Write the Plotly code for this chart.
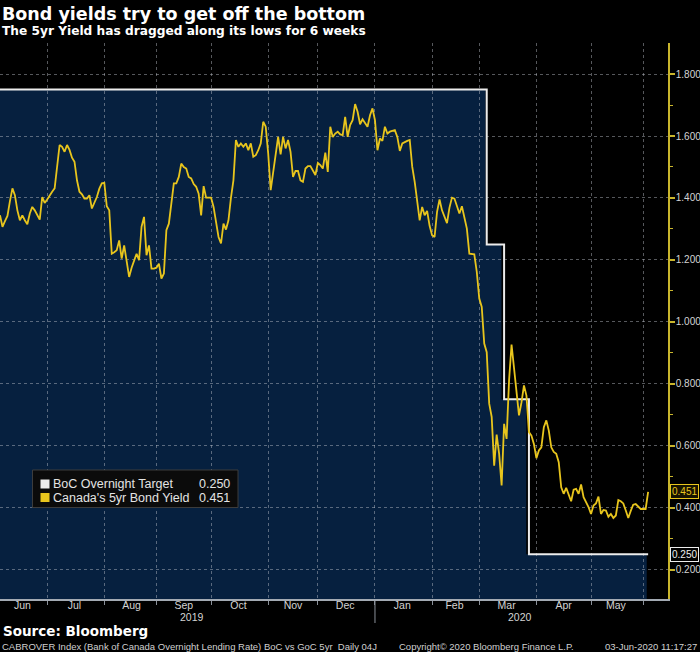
import plotly.graph_objects as go
import pandas as pd

# ---------------- text ----------------
title = "Bond yields try to get off the bottom"
subtitle = "The 5yr Yield has dragged along its lows for 6 weeks"
source_text = "Source: Bloomberg"
footer_left = "CABROVER Index (Bank of Canada Overnight Lending Rate) BoC vs GoC 5yr  Daily 04J"
footer_mid = "Copyright\u00a9 2020 Bloomberg Finance L.P."
footer_right = "03-Jun-2020 11:17:27"
series_names = ["BoC Overnight Target", "Canada's 5yr Bond Yield"]
year_labels = ["2019", "2020"]

# month labels (placed mid-month, on weekdays) and month boundaries
month_label_dates = ["2019-06-17", "2019-07-16", "2019-08-16", "2019-09-16", "2019-10-16",
                     "2019-11-15", "2019-12-16", "2020-01-16", "2020-02-14", "2020-03-16",
                     "2020-04-16", "2020-05-15"]
month_labels = ["Jun", "Jul", "Aug", "Sep", "Oct", "Nov", "Dec", "Jan", "Feb", "Mar", "Apr", "May"]

# ---------------- data ----------------
start_date = "2019-06-04"
end_date = "2020-06-03"

# BoC overnight target (step changes)
boc_dates = ["2019-06-04", "2020-03-04", "2020-03-13", "2020-03-27", "2020-06-03"]
boc_rate = [1.75, 1.25, 0.75, 0.25, 0.25]

# Canada 5yr bond yield, one value per business day from start_date to end_date
yield_5yr = [
    1.344, 1.307, 1.325, 1.342, 1.390, 1.431, 1.409, 1.360, 1.328, 1.344,
    1.328, 1.315, 1.350, 1.371, 1.360, 1.345, 1.330, 1.403, 1.384, 1.395,
    1.410, 1.420, 1.431, 1.511, 1.571, 1.565, 1.549, 1.571, 1.555, 1.530,
    1.517, 1.457, 1.420, 1.412, 1.398, 1.398, 1.409, 1.366, 1.382, 1.403,
    1.430, 1.447, 1.449, 1.373, 1.360, 1.220, 1.225, 1.231, 1.263, 1.204,
    1.247, 1.200, 1.145, 1.175, 1.199, 1.220, 1.199, 1.307, 1.339, 1.215,
    1.247, 1.172, 1.172, 1.175, 1.188, 1.140, 1.156, 1.296, 1.317, 1.380,
    1.447, 1.447, 1.468, 1.511, 1.500, 1.495, 1.468, 1.463, 1.445, 1.436,
    1.414, 1.344, 1.438, 1.401, 1.401, 1.401, 1.371, 1.328, 1.274, 1.253,
    1.317, 1.298, 1.328, 1.400, 1.457, 1.587, 1.565, 1.576, 1.565, 1.576,
    1.554, 1.576, 1.533, 1.538, 1.554, 1.576, 1.646, 1.630, 1.544, 1.425,
    1.479, 1.544, 1.597, 1.541, 1.597, 1.560, 1.587, 1.549, 1.468, 1.487,
    1.487, 1.457, 1.452, 1.495, 1.503, 1.503, 1.490, 1.474, 1.513, 1.506,
    1.495, 1.546, 1.484, 1.630, 1.597, 1.608, 1.614, 1.605, 1.603, 1.662,
    1.597, 1.635, 1.651, 1.703, 1.678, 1.638, 1.654, 1.641, 1.630, 1.667,
    1.689, 1.651, 1.554, 1.592, 1.584, 1.630, 1.608, 1.614, 1.616, 1.619,
    1.597, 1.552, 1.576, 1.581, 1.584, 1.587, 1.501, 1.452, 1.398, 1.328,
    1.371, 1.344, 1.358, 1.310, 1.280, 1.274, 1.355, 1.395, 1.360, 1.340,
    1.319, 1.369, 1.401, 1.398, 1.377, 1.350, 1.373, 1.339, 1.301, 1.220,
    1.220, 1.218, 1.161, 1.075, 1.048, 0.930, 0.902, 0.736, 0.693, 0.536,
    0.636, 0.574, 0.472, 0.671, 0.622, 0.811, 0.927, 0.843, 0.768, 0.698,
    0.740, 0.795, 0.762, 0.644, 0.633, 0.606, 0.560, 0.585, 0.595, 0.660,
    0.682, 0.649, 0.595, 0.580, 0.574, 0.547, 0.466, 0.445, 0.464, 0.445,
    0.421, 0.458, 0.461, 0.445, 0.475, 0.434, 0.418, 0.402, 0.380, 0.407,
    0.414, 0.436, 0.380, 0.393, 0.391, 0.371, 0.380, 0.367, 0.375, 0.425,
    0.421, 0.414, 0.391, 0.367, 0.390, 0.410, 0.412, 0.404, 0.396, 0.396,
    0.396, 0.451,
]

y_ticks = [0.2, 0.4, 0.6, 0.8, 1.0, 1.2, 1.4, 1.6, 1.8]
y_minor_ticks = [0.3, 0.5, 0.7, 0.9, 1.1, 1.3, 1.5, 1.7]
y_range = [0.1054, 1.9002]
x_range = ["2019-06-04", "2020-06-15"]
year_break = "2020-01-01"

yield_dates = pd.bdate_range(start_date, end_date)
assert len(yield_dates) == len(yield_5yr), (len(yield_dates), len(yield_5yr))

# ---------------- style ----------------
BG = "#000000"
NAVY = "#06203f"
YELLOW = "#e8c51d"
AXIS_YELLOW = "#c9b52c"
WHITE = "#ececec"
GRID = "rgba(190,195,205,0.45)"
TICKTXT = "#d4d4d4"
SANS = "Liberation Sans, Arial, sans-serif"
BOLD_FONT = "DejaVu Sans, Verdana, sans-serif"

W, H = 700, 652
PLOT_TOP, PLOT_BOTTOM, PLOT_RIGHT = 43, 599, 668
plot_h = PLOT_BOTTOM - PLOT_TOP


def px_x(px):
    return px / PLOT_RIGHT


def px_y(py):
    return (PLOT_BOTTOM - py) / plot_h


fig = go.Figure()

# navy area under BoC target (lower subplot, below gridlines)
fig.add_trace(go.Scatter(
    x=boc_dates, y=boc_rate, xaxis="x", yaxis="y", mode="lines",
    line=dict(shape="hv", width=0, color=NAVY), fill="tozeroy", fillcolor=NAVY,
    hoverinfo="skip", showlegend=False,
))
# BoC target line
fig.add_trace(go.Scatter(
    x=boc_dates, y=boc_rate, xaxis="x2", yaxis="y2", mode="lines",
    line=dict(shape="hv", width=2, color=WHITE), name=series_names[0], showlegend=False,
))
# 5yr yield
fig.add_trace(go.Scatter(
    x=yield_dates, y=yield_5yr, xaxis="x2", yaxis="y2", mode="lines",
    line=dict(width=1.8, color=YELLOW), name=series_names[1], showlegend=False,
))

rb = [dict(bounds=["sat", "mon"])]

fig.update_layout(
    width=W, height=H,
    paper_bgcolor=BG, plot_bgcolor="rgba(0,0,0,0)",
    margin=dict(l=0, r=W - PLOT_RIGHT, t=PLOT_TOP, b=H - PLOT_BOTTOM, pad=0),
    showlegend=False,
    xaxis=dict(domain=[0, 1], range=x_range, rangebreaks=rb, visible=False,
               anchor="y", automargin=False),
    yaxis=dict(domain=[0, 1], range=y_range, visible=False, anchor="x",
               automargin=False),
    xaxis2=dict(
        domain=[0, 1], range=x_range, rangebreaks=rb, anchor="y2", automargin=False,
        type="date",
        tickmode="array", tickvals=month_label_dates, ticktext=month_labels,
        ticks="", showgrid=False, ticklabelstandoff=-4,
        minor=dict(dtick="M1", tick0="2019-06-01", ticks="outside", ticklen=4,
                   tickwidth=1, tickcolor="#8a9099",
                   showgrid=True, gridcolor=GRID, griddash="dot", gridwidth=1),
        showline=True, linecolor="#a3aab3", linewidth=1.5,
        zeroline=False,
        tickfont=dict(family=SANS, size=10.5, color=TICKTXT),
    ),
    yaxis2=dict(
        domain=[0, 1], range=y_range, anchor="x2", side="right", automargin=False,
        tickvals=y_ticks, tickformat=".3f",
        ticks="outside", ticklen=5, tickwidth=2, tickcolor=AXIS_YELLOW,
        showline=True, linecolor=AXIS_YELLOW, linewidth=1.5,
        showgrid=True, gridcolor=GRID, griddash="dot", gridwidth=1,
        zeroline=False, ticklabelstandoff=-1,
        minor=dict(tickvals=y_minor_ticks, ticks="outside", ticklen=3,
                   tickwidth=1, tickcolor=AXIS_YELLOW, showgrid=False),
        tickfont=dict(family=SANS, size=10, color=TICKTXT),
    ),
)

annotations = []
shapes = []

# titles
annotations.append(dict(text="<b>%s</b>" % title, xref="paper", yref="paper", x=0, y=1,
                        xanchor="left", yanchor="middle", xshift=0, yshift=PLOT_TOP - 14,
                        showarrow=False, font=dict(family=BOLD_FONT, size=17.5, color="#ffffff")))
annotations.append(dict(text="<b>%s</b>" % subtitle, xref="paper", yref="paper", x=0, y=1,
                        xanchor="left", yanchor="middle", xshift=0, yshift=PLOT_TOP - 31,
                        showarrow=False, font=dict(family=BOLD_FONT, size=12.2, color="#ffffff")))

# year labels and separator
for lbl, cx in zip(year_labels, [192, 520]):
    annotations.append(dict(text=lbl, xref="paper", yref="paper", x=px_x(cx), y=0,
                            xanchor="center", yanchor="middle", yshift=-(617 - PLOT_BOTTOM),
                            showarrow=False, font=dict(family=SANS, size=10.5, color=TICKTXT)))
shapes.append(dict(type="line", xref="x2", yref="paper", x0=year_break, x1=year_break,
                   y0=px_y(601), y1=px_y(623), line=dict(color="#8a9099", width=1)))

# source / footer
annotations.append(dict(text="<b>%s</b>" % source_text, xref="paper", yref="paper", x=0, y=0,
                        xanchor="left", yanchor="middle", xshift=1, yshift=-(631 - PLOT_BOTTOM),
                        showarrow=False, font=dict(family=BOLD_FONT, size=13.5, color="#ffffff")))
foot_font = dict(family=SANS, size=9.5, color="#d0d0d0")
annotations.append(dict(text=footer_left, xref="paper", yref="paper", x=0, y=0,
                        xanchor="left", yanchor="middle", xshift=0, yshift=-(646 - PLOT_BOTTOM),
                        showarrow=False, font=foot_font))
annotations.append(dict(text=footer_mid, xref="paper", yref="paper", x=px_x(397), y=0,
                        xanchor="left", yanchor="middle", yshift=-(646 - PLOT_BOTTOM),
                        showarrow=False, font=foot_font))
annotations.append(dict(text=footer_right, xref="paper", yref="paper", x=px_x(699), y=0,
                        xanchor="right", yanchor="middle", yshift=-(646 - PLOT_BOTTOM),
                        showarrow=False, font=foot_font))

# last value tags on the right axis
annotations.append(dict(text="%.3f" % yield_5yr[-1], xref="paper", yref="y2", x=1,
                        y=yield_5yr[-1], xanchor="left", yanchor="middle", xshift=2,
                        showarrow=False, bgcolor="#171400", bordercolor=YELLOW, borderwidth=1,
                        borderpad=1, font=dict(family=SANS, size=10, color=YELLOW)))
annotations.append(dict(text="%.3f" % boc_rate[-1], xref="paper", yref="y2", x=1,
                        y=boc_rate[-1], xanchor="left", yanchor="middle", xshift=2,
                        showarrow=False, bgcolor="#000000", bordercolor=WHITE, borderwidth=1,
                        borderpad=1, font=dict(family=SANS, size=10, color=WHITE)))

# custom legend box
shapes.append(dict(type="rect", xref="paper", yref="paper", layer="above",
                   x0=px_x(32.5), x1=px_x(238), y0=px_y(507.5), y1=px_y(470),
                   fillcolor="#0b0b0b", line=dict(color="#3c3c3c", width=1)))
leg_rows = [(484, WHITE, series_names[0], boc_rate[-1]),
            (497.5, YELLOW, series_names[1], yield_5yr[-1])]
for cy, col, name, val in leg_rows:
    shapes.append(dict(type="rect", xref="paper", yref="paper", layer="above",
                       x0=px_x(40.5), x1=px_x(49.5), y0=px_y(cy + 4.5), y1=px_y(cy - 4.5),
                       fillcolor=col, line=dict(width=0)))
    annotations.append(dict(text=name, xref="paper", yref="paper", x=px_x(51), y=px_y(cy),
                            xanchor="left", yanchor="middle", showarrow=False,
                            font=dict(family=SANS, size=12.5, color="#e4e4e4")))
    annotations.append(dict(text="%.3f" % val, xref="paper", yref="paper", x=px_x(232),
                            y=px_y(cy), xanchor="right", yanchor="middle", showarrow=False,
                            font=dict(family=SANS, size=12.5, color="#e4e4e4")))

fig.update_layout(annotations=annotations, shapes=shapes)

fig.write_html("out.html", config=dict(displayModeBar=False),
               post_script="document.body.style.margin='0px';")
